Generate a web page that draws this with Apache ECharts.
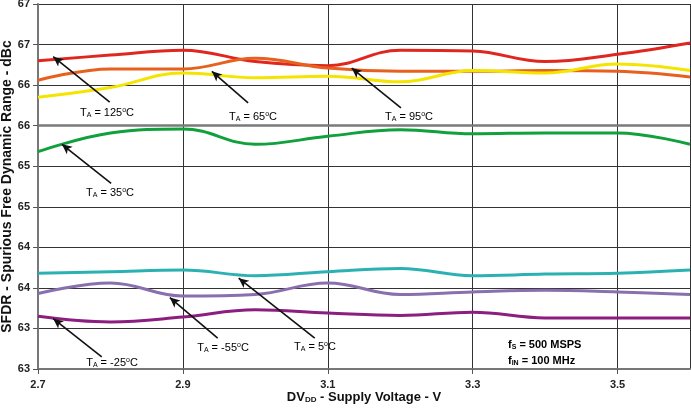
<!DOCTYPE html>
<html><head><meta charset="utf-8">
<script src="https://cdn.jsdelivr.net/npm/echarts@6/dist/echarts.min.js"></script>
<style>html,body{margin:0;padding:0;background:#fff}#c{width:691px;height:413px}</style>
</head><body><div id="c"></div>
<script>
const voltages = [2.7, 2.8, 2.9, 3.0, 3.1, 3.2, 3.3, 3.4, 3.5, 3.6];
const t125 = [66.80, 66.87, 66.93, 66.79, 66.74, 66.93, 66.92, 66.79, 66.88, 67.02];
const t65  = [66.56, 66.70, 66.70, 66.83, 66.71, 66.67, 66.67, 66.68, 66.67, 66.60];
const t95  = [66.35, 66.47, 66.65, 66.59, 66.61, 66.54, 66.68, 66.65, 66.76, 66.68];
const t35  = [65.68, 65.91, 65.96, 65.77, 65.87, 65.95, 65.90, 65.91, 65.91, 65.77];
const t5   = [64.18, 64.20, 64.22, 64.15, 64.20, 64.24, 64.15, 64.17, 64.18, 64.22];
const tm55 = [63.93, 64.06, 63.90, 63.92, 64.06, 63.92, 63.95, 63.97, 63.95, 63.92];
const tm25 = [63.65, 63.58, 63.64, 63.73, 63.69, 63.66, 63.70, 63.63, 63.63, 63.63];
const yTicks = [63, 63.5, 64, 64.5, 65, 65.5, 66, 66.5, 67, 67.5];

// arrows: [tipVoltage, tipDb, tailVoltage, tailDb]
const arrows = [
  [2.721, 66.85, 2.799, 66.29],
  [2.940, 66.67, 2.990, 66.28],
  [2.733, 65.77, 2.801, 65.29],
  [3.133, 66.71, 3.201, 66.22],
  [2.721, 63.62, 2.788, 63.15],
  [2.882, 63.88, 2.948, 63.38],
  [2.977, 64.12, 3.082, 63.38]
];
const notes = [
  ['125', 107, 113], ['65', 253, 117], ['35', 110, 193], ['95', 409, 117],
  ['-25', 112, 363], ['-55', 223, 348], ['5', 315, 347]
];

const vx = v => (v - voltages[0]) * 10;
const pairs = arr => arr.map((d, i) => [vx(voltages[i]), d]);

const FONT = '"Liberation Sans", Arial, Helvetica, sans-serif';
const colors = ['#e0261f', '#e8601e', '#f3e500', '#10a03c', '#2cb1b3', '#8a6fae', '#8c1e80'];
const sets = [t125, t65, t95, t35, t5, tm55, tm25];

const series = sets.map((s, k) => ({
  type: 'line', data: pairs(s), smooth: 0.4, symbol: 'none',
  lineStyle: { color: colors[k], width: 3 }, z: 3
}));
series.push({
  type: 'line', data: [], symbol: 'none', z: 5,
  markLine: {
    silent: true, animation: false,
    symbolSize: [7, 10],
    lineStyle: { color: '#111', width: 1.6, type: 'solid' },
    label: { show: false },
    data: arrows.map(a => [
      { coord: [vx(a[0]), a[1]], symbol: 'arrow' },
      { coord: [vx(a[2]), a[3]], symbol: 'none' }
    ])
  }
});
series.push({
  type: 'line', data: [], symbol: 'none', z: 2,
  markLine: {
    silent: true, animation: false, symbol: 'none',
    lineStyle: { color: '#7a7a7a', width: 2.5, type: 'solid' },
    label: { show: false },
    data: [{ yAxis: 66 }]
  }
});

const rich = {
  n: { fontFamily: FONT, fontSize: 11, color: '#111' },
  sub: { fontFamily: FONT, fontSize: 7, color: '#111', verticalAlign: 'bottom', padding: [5, 0, 0, 0] },
  sup: { fontFamily: FONT, fontSize: 7, color: '#111', verticalAlign: 'top', padding: [0, 0, 5, 0] }
};
const graphics = notes.map(n => ({
  type: 'text', x: n[1], y: n[2], z: 10,
  style: {
    text: '{n|T}{sub|A}{n| = ' + n[0] + '}{sup|o}{n|C}',
    rich: rich, align: 'center', verticalAlign: 'middle'
  }
}));
const brich = {
  n: { fontFamily: FONT, fontSize: 11, fontWeight: 'bold', color: '#111' },
  sub: { fontFamily: FONT, fontSize: 7, fontWeight: 'bold', color: '#111', padding: [5, 0, 0, 0] }
};
graphics.push({ type: 'text', x: 508, y: 345, z: 10,
  style: { text: '{n|f}{sub|S}{n| = 500 MSPS}', rich: brich, verticalAlign: 'middle' } });
graphics.push({ type: 'text', x: 508, y: 361, z: 10,
  style: { text: '{n|f}{sub|IN}{n| = 100 MHz}', rich: brich, verticalAlign: 'middle' } });

const chart = echarts.init(document.getElementById('c'), null, { renderer: 'canvas' });
chart.setOption({
  animation: false,
  backgroundColor: '#fff',
  grid: { left: 38, right: 1, top: 4, bottom: 44, containLabel: false, outerBoundsMode: 'none' },
  xAxis: {
    type: 'value', min: 0, max: vx(voltages[voltages.length - 1]), interval: 2,
    name: 'DV{s|DD} - Supply Voltage - V',
    nameLocation: 'middle', nameGap: 21, nameMoveOverlap: false,
    nameTextStyle: {
      fontFamily: FONT, fontSize: 13, fontWeight: 'bold', color: '#111',
      rich: { s: { fontFamily: FONT, fontSize: 8, fontWeight: 'bold', color: '#111', padding: [6, 0, 0, 0] } }
    },
    axisLine: { lineStyle: { color: '#777', width: 2 } },
    axisTick: { show: true, length: 5, lineStyle: { color: '#555' } },
    axisLabel: {
      fontFamily: FONT, fontSize: 11, fontWeight: 'bold', color: '#222', margin: 10,
      showMaxLabel: false,
      formatter: v => (Math.round(v) >= voltages.length - 1 ? '' : voltages[Math.round(v)].toFixed(1))
    },
    splitLine: { show: true, lineStyle: { color: '#333', width: 1 } }
  },
  yAxis: {
    type: 'value', min: yTicks[0], max: yTicks[yTicks.length - 1], interval: 0.5,
    name: 'SFDR - Spurious Free Dynamic Range - dBc',
    nameLocation: 'middle', nameGap: 24, nameRotate: 90, nameMoveOverlap: false,
    nameTextStyle: { fontFamily: FONT, fontSize: 14, fontWeight: 'bold', color: '#111' },
    axisLine: { show: true, lineStyle: { color: '#777', width: 2 } },
    axisTick: { show: true, length: 5, lineStyle: { color: '#555' } },
    axisLabel: {
      fontFamily: FONT, fontSize: 11, fontWeight: 'bold', color: '#222', margin: 8,
      formatter: v => String(Math.floor(v + 1e-9))
    },
    splitLine: { show: true, lineStyle: { color: '#333', width: 1 } }
  },
  series: series,
  graphic: graphics
});
</script>
</body></html>
